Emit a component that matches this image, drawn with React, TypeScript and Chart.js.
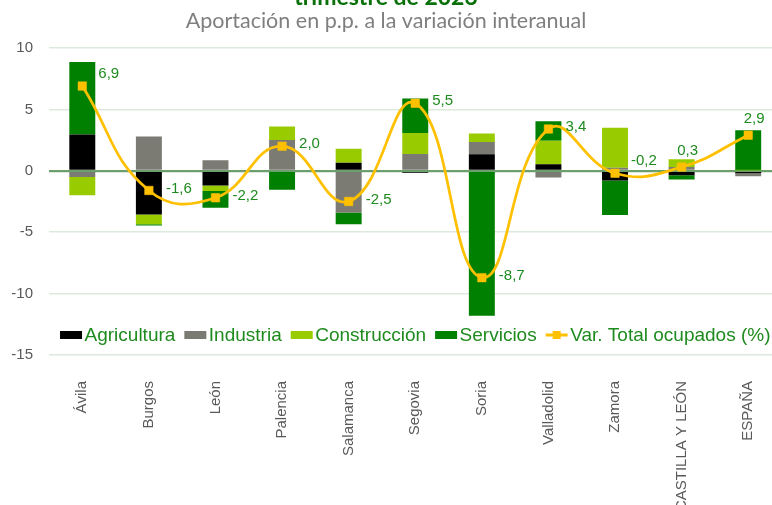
import { useEffect, useRef } from 'react';
import { Chart, registerables } from 'chart.js';

Chart.register(...registerables);

const categories = ['Ávila', 'Burgos', 'León', 'Palencia', 'Salamanca', 'Segovia', 'Soria', 'Valladolid', 'Zamora', 'CASTILLA Y LEÓN', 'ESPAÑA'];
const agricultura = [2.95, -3.55, -1.2, -0.1, 0.66, -0.15, 1.35, 0.53, -0.78, -0.37, -0.2];
const industria = [-0.5, 2.8, 0.85, 2.5, -3.4, 1.37, 1.0, -0.55, 0.25, 0.31, -0.25];
const construccion = [-1.5, -0.8, -0.45, 1.1, 1.14, 1.71, 0.69, 1.91, 3.25, 0.63, 0.05];
const servicios = [5.9, -0.1, -1.35, -1.45, -0.95, 2.81, -11.8, 1.6, -2.82, -0.33, 3.25];
const varTotal = [6.9, -1.6, -2.2, 2.0, -2.5, 5.5, -8.7, 3.4, -0.2, 0.3, 2.9];
const yMin = -15;
const yMax = 10;
const yStep = 5;
const labelPlacement = ['upright', 'right', 'right', 'right', 'right', 'right', 'right', 'right', 'upright', 'up', 'up'];

const titleText = 'trimestre de 2023';
const subtitleText = 'Aportación en p.p. a la variación interanual';

const VIEW_W = 772;
const VIEW_H = 505;
const CANVAS_W = 788;

const GREEN_TEXT = '#1e8b1e';
const LINE_COLOR = '#ffc000';

const fmt = (v: number) => v.toFixed(1).replace('.', ',');

const overlayPlugin = {
  id: 'overlay',
  afterDatasetsDraw(chart: any) {
    const ctx = chart.ctx;
    const meta = chart.getDatasetMeta(4);
    ctx.save();
    ctx.font = '15px "Liberation Sans", Arial, sans-serif';
    ctx.fillStyle = GREEN_TEXT;
    ctx.textBaseline = 'middle';
    meta.data.forEach((pt: any, i: number) => {
      const p = labelPlacement[i];
      const t = fmt(varTotal[i]);
      if (p === 'right') {
        ctx.textAlign = 'left';
        ctx.fillText(t, pt.x + 17, pt.y - 2);
      } else if (p === 'upright') {
        ctx.textAlign = 'left';
        ctx.fillText(t, pt.x + 16, pt.y - 12);
      } else {
        ctx.textAlign = 'center';
        ctx.fillText(t, pt.x + 6, pt.y - 16);
      }
    });
    ctx.restore();
  },
  afterDraw(chart: any) {
    const ctx = chart.ctx;
    const area = chart.chartArea;
    ctx.save();
    ctx.textAlign = 'center';
    ctx.textBaseline = 'alphabetic';
    ctx.fillStyle = '#0a700a';
    ctx.font = 'bold 23px Lato, "Open Sans", sans-serif';
    ctx.fillText(titleText, VIEW_W / 2, 5);
    ctx.fillStyle = '#7f7f7f';
    ctx.font = '21.5px Lato, "Open Sans", sans-serif';
    ctx.fillText(subtitleText, VIEW_W / 2, 28);

    // Legend
    const ds = chart.data.datasets;
    ctx.font = '19px "Liberation Sans", Arial, sans-serif';
    const boxW = 22;
    const boxH = 8;
    const gapBox = 2.5;
    const gapItem = 9;
    const widths = ds.map((d: any) => boxW + gapBox + ctx.measureText(d.label).width);
    const total = widths.reduce((a: number, b: number) => a + b, 0) + gapItem * (ds.length - 1);
    let x = (area.left + area.right) / 2 - total / 2;
    const cy = 335;
    ds.forEach((d: any, i: number) => {
      if (d.type === 'line') {
        ctx.strokeStyle = LINE_COLOR;
        ctx.lineWidth = 3;
        ctx.beginPath();
        ctx.moveTo(x, cy);
        ctx.lineTo(x + boxW, cy);
        ctx.stroke();
        ctx.fillStyle = LINE_COLOR;
        ctx.fillRect(x + boxW / 2 - 4, cy - 4, 8, 8);
      } else {
        ctx.fillStyle = d.backgroundColor;
        ctx.fillRect(x, cy - boxH / 2, boxW, boxH);
      }
      ctx.fillStyle = GREEN_TEXT;
      ctx.textAlign = 'left';
      ctx.textBaseline = 'middle';
      ctx.fillText(d.label, x + boxW + gapBox, cy + 1);
      x += widths[i] + gapItem;
    });
    ctx.restore();
  },
};

export default function App() {
  const canvasRef = useRef<HTMLCanvasElement | null>(null);

  useEffect(() => {
    if (!canvasRef.current) return;
    const barCommon = {
      type: 'bar' as const,
      barPercentage: 0.39,
      categoryPercentage: 1,
      order: 1,
      borderWidth: 0,
    };
    const chart = new Chart(canvasRef.current, {
      type: 'bar',
      data: {
        labels: categories,
        datasets: [
          { ...barCommon, label: 'Agricultura', data: agricultura, backgroundColor: '#000000' },
          { ...barCommon, label: 'Industria', data: industria, backgroundColor: '#7b7b73' },
          { ...barCommon, label: 'Construcción', data: construccion, backgroundColor: '#99cc00' },
          { ...barCommon, label: 'Servicios', data: servicios, backgroundColor: '#008000' },
          {
            type: 'line' as const,
            label: 'Var. Total ocupados (%)',
            data: varTotal,
            stack: 'line',
            order: 0,
            borderColor: LINE_COLOR,
            backgroundColor: LINE_COLOR,
            borderWidth: 2.75,
            tension: 0.45,
            pointStyle: 'rect',
            pointRadius: 6,
            pointBackgroundColor: LINE_COLOR,
            pointBorderColor: LINE_COLOR,
            pointBorderWidth: 0.5,
            fill: false,
          },
        ] as any,
      },
      options: {
        animation: false,
        responsive: true,
        maintainAspectRatio: false,
        layout: { padding: { top: 48, left: 0, right: 0, bottom: 0 } },
        plugins: {
          legend: { display: false },
          title: { display: false },
          tooltip: { enabled: false },
        },
        scales: {
          x: {
            stacked: true,
            grid: { display: false, drawTicks: false },
            border: { display: false },
            ticks: {
              autoSkip: false,
              maxRotation: 90,
              minRotation: 90,
              padding: 26,
              color: '#595959',
              font: { family: '"Liberation Sans", Arial, sans-serif', size: 15 },
            },
            afterFit: (scale: any) => {
              scale.height = 150;
              scale.paddingLeft = 0;
              scale.paddingRight = 0;
            },
          },
          y: {
            stacked: true,
            min: yMin,
            max: yMax,
            ticks: {
              stepSize: yStep,
              padding: 16,
              color: '#595959',
              font: { family: '"Liberation Sans", Arial, sans-serif', size: 15 },
            },
            grid: {
              drawTicks: false,
              color: (c: any) => (c.tick && c.tick.value === 0 ? '#6b9f6b' : '#dde9dd'),
              lineWidth: (c: any) => (c.tick && c.tick.value === 0 ? 2.25 : 1.5),
            },
            border: { display: false },
            afterFit: (scale: any) => {
              scale.width = 49;
              scale.paddingTop = 0;
              scale.paddingBottom = 0;
            },
          },
        },
      },
      plugins: [overlayPlugin],
    });
    return () => chart.destroy();
  }, []);

  return (
    <div style={{ position: 'fixed', left: 0, top: 0, width: VIEW_W, height: VIEW_H, overflow: 'hidden', background: '#ffffff' }}>
      <div style={{ position: 'absolute', left: 0, top: 0, width: CANVAS_W, height: VIEW_H }}>
        <canvas ref={canvasRef} />
      </div>
    </div>
  );
}
